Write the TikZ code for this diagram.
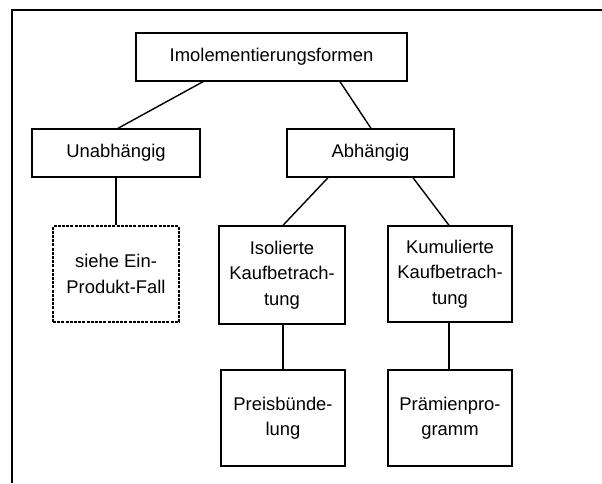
\documentclass[tikz,border=0pt]{standalone}
\usepackage{fontspec}
\setmainfont{Liberation Sans}
\begin{document}
\begin{tikzpicture}[x=1pt,y=-1pt,
  box/.style={draw=black, line width=1.4pt, fill=white, align=center, inner sep=0pt,
    font=\fontsize{18.4}{25.5}\selectfont},
  dbox/.style={box, dash pattern=on 3pt off 1.2pt},
  conn/.style={draw=black, line width=1.4pt}]
\useasboundingbox (0,0) rectangle (602,483);
\draw[line width=1.4pt] (602,10) -- (12,10) -- (12,483);
\node[box, minimum width=271pt, minimum height=48pt] (root) at (271.5,57) {Imolementierungsformen};
\node[box, minimum width=168pt, minimum height=48pt] (unab) at (116,153) {Unabhängig};
\node[box, minimum width=167pt, minimum height=48pt] (abh) at (370.5,153) {Abhängig};
\node[dbox, minimum width=126pt, minimum height=96pt] (siehe) at (116,274) {siehe Ein-\\Produkt-Fall};
\node[box, minimum width=126pt, minimum height=98pt] (iso) at (282,275) {Isolierte\\Kaufbetrach-\\tung};
\node[box, minimum width=124pt, minimum height=96pt] (kum) at (450,274) {Kumulierte\\Kaufbetrach-\\tung};
\node[box, minimum width=124pt, minimum height=96pt] (preis) at (283,418) {Preisbünde-\\lung};
\node[box, minimum width=124pt, minimum height=96pt] (praem) at (450,418) {Prämienpro-\\gramm};
\draw[conn] ([xshift=-68.5pt]root.south) -- ([xshift=2pt]unab.north);
\draw[conn] ([xshift=68.5pt]root.south) -- ([xshift=0.5pt]abh.north);
\draw[conn] (unab.south) -- (siehe.north);
\draw[conn] ([xshift=-42.5pt]abh.south) -- ([xshift=1pt]iso.north);
\draw[conn] ([xshift=42.5pt]abh.south) -- ([xshift=-1pt]kum.north);
\draw[conn] ([xshift=1pt]iso.south) -- (preis.north);
\draw[conn] ([xshift=-1pt]kum.south) -- ([xshift=-1pt]praem.north);
\end{tikzpicture}
\end{document}
